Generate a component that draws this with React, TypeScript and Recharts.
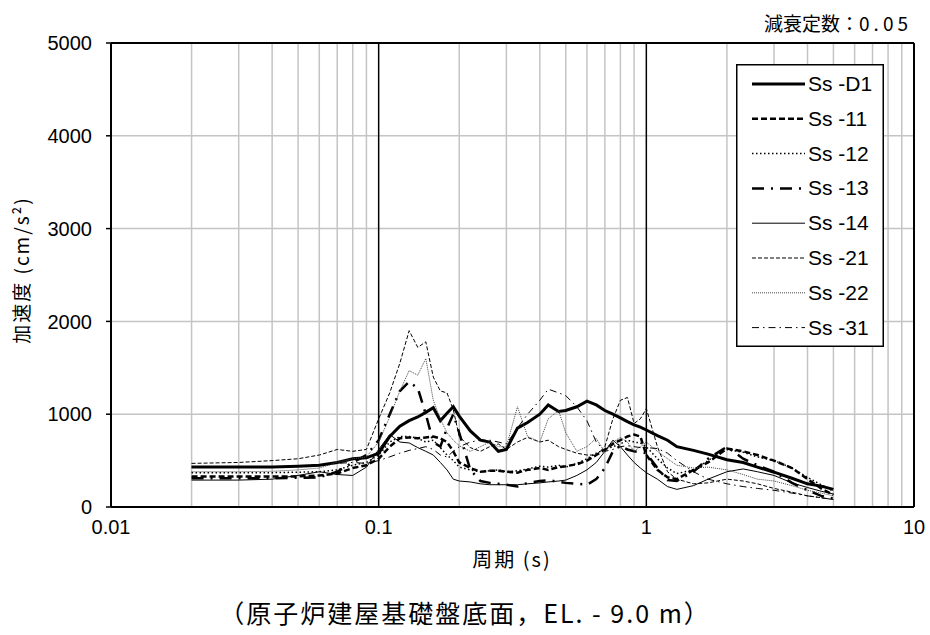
import React from "react";
import { LineChart, Line, XAxis, YAxis, ReferenceLine } from "recharts";

// 周期 (s)
const PERIODS = [
  0.02, 0.03, 0.04, 0.05, 0.06, 0.07, 0.08, 0.09, 0.1,
  0.11, 0.12, 0.13, 0.14, 0.15, 0.16, 0.17, 0.18, 0.19, 0.2,
  0.22, 0.24, 0.26, 0.28, 0.3,
  0.33, 0.36, 0.4, 0.43, 0.47, 0.5,
  0.55, 0.6, 0.65, 0.7, 0.75, 0.8, 0.85, 0.9, 0.95, 1.0,
  1.1, 1.2, 1.3, 1.5, 1.7, 2.0,
  2.3, 2.6, 3.0, 3.5, 4.0, 4.5, 5.0,
];

// 加速度 (cm/s2)
const SS_D1 = [
  430, 430, 430, 440, 450, 480, 520, 530, 580,
  760, 870, 930, 970, 1020, 1070, 930, 1010, 1080, 980,
  820, 720, 700, 600, 620,
  850, 910, 1000, 1100, 1030, 1040,
  1080, 1140, 1100, 1040, 1000, 960, 920, 885, 860, 830,
  770, 720, 650, 610, 570, 510,
  480, 430, 375, 310, 250, 225, 190,
];
const SS_11 = [
  330, 330, 330, 330, 340, 360, 420, 450, 520,
  650, 740, 750, 740, 750, 760, 740, 700, 600, 480,
  420, 380, 390, 390, 380,
  370, 400, 420, 400, 430, 440,
  460, 500, 560, 620, 680, 720, 760, 780, 760, 560,
  400, 320, 300, 400, 480, 630,
  600, 560, 500, 420, 300, 200, 130,
];
const SS_12 = [
  370, 370, 370, 375, 380, 400, 450, 480, 560,
  700, 760, 760, 740, 700, 720, 640, 560, 500, 430,
  400, 380, 390, 400, 380,
  390, 410, 440, 430, 450, 430,
  470, 520, 580, 620, 650, 680, 720, 700, 690, 650,
  520, 420, 360, 400, 500, 620,
  590, 540, 500, 420, 320, 240, 170,
];
const SS_13 = [
  310, 310, 310, 315, 320, 380, 480, 560, 720,
  1000, 1250, 1350, 1280, 1000, 700, 650, 850, 1000, 800,
  400, 280, 260, 250, 240,
  220, 260, 280, 290, 270, 260,
  250, 240, 300, 420, 600, 660, 620, 600, 590, 580,
  420, 290, 280, 380, 520, 650,
  520, 450, 380, 260, 180, 120, 90,
];
const SS_14 = [
  290, 290, 300, 340, 380, 350, 340, 430, 620,
  780, 700, 690, 640, 600, 560, 480, 400, 300, 280,
  270, 250, 240, 240, 240,
  240, 250, 260, 270, 280, 290,
  340, 400, 480, 600, 720, 650, 560, 480, 420, 370,
  300, 220, 190, 230, 300, 380,
  410, 380, 340, 260, 210, 170, 140,
];
const SS_21 = [
  470, 480, 500, 520, 560, 620, 600, 620, 950,
  1230, 1550, 1900, 1720, 1780, 1400, 1250, 1230, 1050, 760,
  640, 600, 650, 680, 620,
  700, 750, 700, 720, 650, 620,
  580, 560, 560, 650, 950, 1150, 1180, 900, 950, 1060,
  650, 380, 300, 250, 260, 300,
  280, 250, 200, 160, 120, 100, 80,
];
const SS_22 = [
  380, 380, 385, 400, 420, 480, 520, 540, 700,
  970, 1250, 1470, 1420, 1600, 1150, 950, 800, 720, 660,
  600, 650, 700, 650, 650,
  1080, 760, 700, 950, 1040, 800,
  600, 650, 740, 590, 700, 750, 700, 600, 650, 700,
  600, 520, 450, 420, 430, 400,
  350, 300, 280, 230, 180, 150, 120,
];
const SS_31 = [
  430, 430, 430, 440, 450, 470, 480, 470, 500,
  540, 580, 610, 630, 650, 620, 560, 540, 600, 650,
  700, 720, 720, 700, 680,
  850, 1000, 1150, 1270, 1230, 1200,
  1080, 930, 700, 600, 620, 650, 660, 650, 640, 640,
  630, 580, 500, 380, 300, 250,
  220, 200, 180, 150, 120, 100, 80,
];

const X_TICKS = [0.01, 0.1, 1, 10];
const Y_TICKS = [0, 1000, 2000, 3000, 4000, 5000];
const MINOR_X = [
  0.02, 0.03, 0.04, 0.05, 0.06, 0.07, 0.08, 0.09,
  0.2, 0.3, 0.4, 0.5, 0.6, 0.7, 0.8, 0.9,
  2, 3, 4, 5, 6, 7, 8, 9,
];
const MAJOR_X = [0.1, 1];
const GRID_Y = [1000, 2000, 3000, 4000];

const series = [
  { key: "d1", name: "Ss-D1", values: SS_D1, width: 3, dash: undefined, color: "#000" },
  { key: "s11", name: "Ss-11", values: SS_11, width: 2.5, dash: "6 3", color: "#000" },
  { key: "s12", name: "Ss-12", values: SS_12, width: 1.5, dash: "1.5 2.5", color: "#000" },
  { key: "s13", name: "Ss-13", values: SS_13, width: 2.5, dash: "12 7 2 7", color: "#000" },
  { key: "s14", name: "Ss-14", values: SS_14, width: 1, dash: undefined, color: "#000" },
  { key: "s21", name: "Ss-21", values: SS_21, width: 1, dash: "4 2", color: "#000" },
  { key: "s22", name: "Ss-22", values: SS_22, width: 1, dash: "1 1", color: "#444" },
  { key: "s31", name: "Ss-31", values: SS_31, width: 1, dash: "7 4 1.5 4", color: "#000" },
];

const data = PERIODS.map((t, i) => {
  const row: Record<string, number> = { t };
  series.forEach((s) => (row[s.key] = s.values[i]));
  return row;
});

const FONT = "'Liberation Sans Narrow', 'Liberation Sans', Arial, sans-serif";
const CJK = "'Noto Sans CJK JP', 'Noto Sans CJK SC', sans-serif";

function fmtX(v: number) {
  if (v === 0.01) return "0.01";
  if (v === 0.1) return "0.1";
  return String(v);
}

function LegendBox() {
  return (
    <svg
      width={148}
      height={283}
      style={{ position: "absolute", left: 736, top: 64 }}
    >
      <rect x={0.75} y={0.75} width={146.5} height={281.5} fill="#fff" stroke="#000" strokeWidth={1.5} />
      {series.map((s, i) => {
        const y = 20 + i * 34.8;
        return (
          <g key={s.key}>
            <line
              x1={16}
              x2={69}
              y1={y}
              y2={y}
              stroke={s.color}
              strokeWidth={s.width}
              strokeDasharray={s.dash}
            />
            <text
              x={72}
              y={y + 7}
              fontSize={21}
              fontFamily={FONT}
              fill="#000"
            >
              {s.name.replace("-", " -")}
            </text>
          </g>
        );
      })}
    </svg>
  );
}

export default function App() {
  return (
    <div style={{ position: "absolute", left: 0, top: 0, width: 930, height: 635, background: "#fff" }}>
      <LineChart
        width={930}
        height={635}
        data={data}
        margin={{ top: 43, right: 16, bottom: 88, left: 0 }}
      >
        {MINOR_X.map((x) => (
          <ReferenceLine key={"mx" + x} x={x} stroke="#c4c4c4" strokeWidth={1.5} />
        ))}
        {GRID_Y.map((y) => (
          <ReferenceLine key={"gy" + y} y={y} stroke="#c4c4c4" strokeWidth={1.5} />
        ))}
        {MAJOR_X.map((x) => (
          <ReferenceLine key={"jx" + x} x={x} stroke="#000" strokeWidth={1.5} />
        ))}
        <ReferenceLine y={5000} stroke="#000" strokeWidth={2} />
        <ReferenceLine x={10} stroke="#000" strokeWidth={2} />

        <XAxis
          dataKey="t"
          type="number"
          scale="log"
          domain={[0.01, 10]}
          ticks={X_TICKS}
          tickFormatter={fmtX}
          allowDataOverflow
          height={40}
          tickLine={false}
          tickSize={0}
          tickMargin={13}
          axisLine={{ stroke: "#000", strokeWidth: 2 }}
          tick={{ fontSize: 20, fill: "#000", fontFamily: FONT }}
        />
        <YAxis
          type="number"
          domain={[0, 5000]}
          ticks={Y_TICKS}
          width={111}
          tickSize={5}
          tickMargin={14}
          tickLine={{ stroke: "#000", strokeWidth: 1.5 }}
          axisLine={{ stroke: "#000", strokeWidth: 2 }}
          tick={{ fontSize: 20, fill: "#000", fontFamily: FONT }}
        />

        {series.map((s) => (
          <Line
            key={s.key}
            dataKey={s.key}
            name={s.name}
            type="linear"
            stroke={s.color}
            strokeWidth={s.width}
            strokeDasharray={s.dash}
            dot={false}
            activeDot={false}
            isAnimationActive={false}
          />
        ))}
      </LineChart>

      <LegendBox />

      <div
        style={{
          position: "absolute",
          right: 18,
          top: 9,
          fontFamily: CJK,
          fontSize: 19,
          color: "#000",
          whiteSpace: "nowrap",
        }}
      >
        減衰定数：<span style={{ letterSpacing: 4 }}>0.05</span>
      </div>

      <div
        style={{
          position: "absolute",
          left: 512,
          top: 544,
          transform: "translateX(-50%)",
          fontFamily: CJK,
          fontSize: 20,
          letterSpacing: 2,
          whiteSpace: "nowrap",
        }}
      >
        周期 (s)
      </div>

      <div
        style={{
          position: "absolute",
          left: 20,
          top: 270,
          transform: "translate(-50%, -50%) rotate(-90deg)",
          fontFamily: CJK,
          fontSize: 19,
          letterSpacing: 2,
          whiteSpace: "nowrap",
        }}
      >
        加速度 (cm/s²)
      </div>

      <div
        style={{
          position: "absolute",
          left: 465,
          top: 594,
          transform: "translateX(-50%)",
          fontFamily: CJK,
          fontSize: 25,
          letterSpacing: 2,
          whiteSpace: "nowrap",
        }}
      >
        （原子炉建屋基礎盤底面，EL. - 9.0 m）
      </div>
    </div>
  );
}
